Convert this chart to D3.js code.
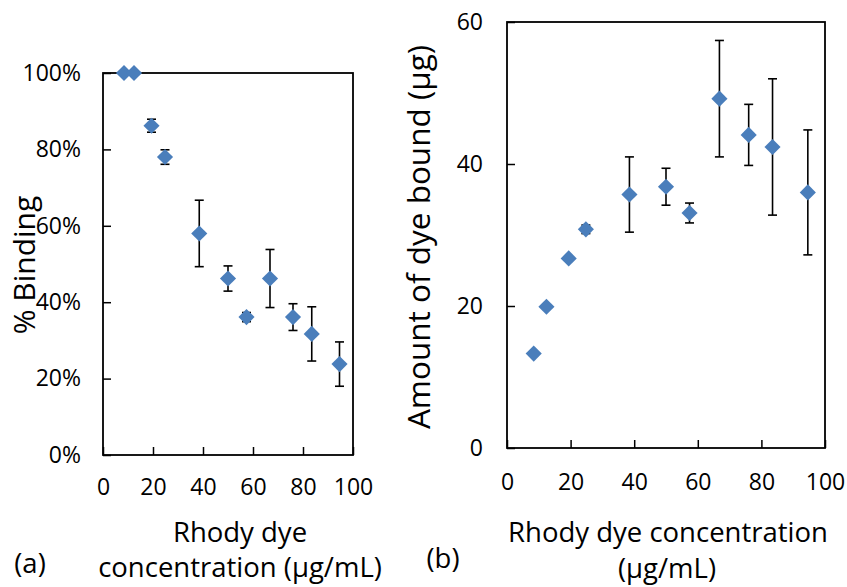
<!DOCTYPE html>
<html lang="en">
<head>
    <meta charset="UTF-8">
    <title>Rhody dye binding</title>
    <script src="https://d3js.org/d3.v7.min.js"></script>
    <style>
        body { margin: 0; background: #fff; }
        text { font-family: "Open Sans", sans-serif; fill: #000; }
    </style>
</head>
<body>
    <svg width="847" height="587" id="chart"></svg>

    <script>
        // concentration of Rhody dye (ug/mL), shared by both panels
        var concentration = [8.4, 12.4, 19.4, 24.8, 38.5, 50.0, 57.4, 66.8, 76.0, 83.5, 94.6];

        // panel (a): % binding and its error
        var bindingPct = [100, 100, 86.2, 78.0, 58.0, 46.2, 36.1, 46.2, 36.1, 31.7, 23.8];
        var bindingErr = [0, 0, 1.7, 1.9, 8.7, 3.3, 1.2, 7.6, 3.5, 7.1, 5.8];

        // panel (b): amount of dye bound (ug) and its error
        var dyeBound = [13.3, 19.9, 26.7, 30.8, 35.7, 36.8, 33.1, 49.2, 44.1, 42.4, 36.0];
        var dyeBoundErr = [0, 0, 0, 0.6, 5.3, 2.6, 1.4, 8.2, 4.3, 9.6, 8.8];

        var xTicks = [0, 20, 40, 60, 80, 100];
        var yTicksA = [0, 20, 40, 60, 80, 100];
        var yTicksB = [0, 20, 40, 60];

        var svg = d3.select("#chart");
        var blue = "#4a7ebb";

        var diamond = d3.symbol().type(d3.symbolSquare).size(130);

        function drawPanel(p) {
            var x = d3.scaleLinear().domain([0, 100]).range(p.xRange);
            var y = d3.scaleLinear().domain(p.yDomain).range(p.yRange);
            var g = svg.append("g");

            // axes, ticks pointing inward
            g.append("g")
                .attr("transform", "translate(0," + p.yRange[0] + ")")
                .call(d3.axisBottom(x).tickValues(xTicks).tickSize(-8).tickPadding(p.xPad))
                .call(a => a.select(".domain").remove())
                .call(a => a.selectAll("line").attr("stroke", "#000").attr("stroke-width", 1.5))
                .call(a => a.selectAll("text").attr("font-size", 23).attr("font-family", null));

            g.append("g")
                .attr("transform", "translate(" + p.xRange[0] + ",0)")
                .call(d3.axisLeft(y).tickValues(p.yTicks).tickSize(-8).tickPadding(p.yPad).tickFormat(p.fmt))
                .call(a => a.select(".domain").remove())
                .call(a => a.selectAll("line").attr("stroke", "#000").attr("stroke-width", 1.5))
                .call(a => a.selectAll("text").attr("font-size", 23).attr("font-family", null));

            // plot frame
            g.append("rect")
                .attr("x", p.xRange[0])
                .attr("y", p.yRange[1])
                .attr("width", p.xRange[1] - p.xRange[0])
                .attr("height", p.yRange[0] - p.yRange[1])
                .attr("fill", "none")
                .attr("stroke", "#000")
                .attr("stroke-width", 1.8);

            var pts = concentration.map((c, i) => ({ x: c, y: p.values[i], e: p.errors[i] }));

            // error bars
            var bars = g.append("g").attr("stroke", "#000").attr("stroke-width", 1.6)
                .selectAll("g")
                .data(pts.filter(d => d.e > 0))
                .join("g");
            bars.append("line")
                .attr("x1", d => x(d.x)).attr("x2", d => x(d.x))
                .attr("y1", d => y(d.y - d.e)).attr("y2", d => y(d.y + d.e));
            bars.append("line")
                .attr("x1", d => x(d.x) - 4.5).attr("x2", d => x(d.x) + 4.5)
                .attr("y1", d => y(d.y + d.e)).attr("y2", d => y(d.y + d.e));
            bars.append("line")
                .attr("x1", d => x(d.x) - 4.5).attr("x2", d => x(d.x) + 4.5)
                .attr("y1", d => y(d.y - d.e)).attr("y2", d => y(d.y - d.e));

            // diamond markers
            g.append("g")
                .selectAll("path")
                .data(pts)
                .join("path")
                .attr("d", diamond)
                .attr("fill", blue)
                .attr("transform", d => "translate(" + x(d.x) + "," + y(d.y) + ") rotate(45)");
        }

        drawPanel({
            xRange: [103, 353], yRange: [455, 73], yDomain: [0, 100],
            yTicks: yTicksA, fmt: d => d + "%",
            values: bindingPct, errors: bindingErr, xPad: 24, yPad: 22
        });

        drawPanel({
            xRange: [507, 825], yRange: [448, 22], yDomain: [0, 60],
            yTicks: yTicksB, fmt: d => d,
            values: dyeBound, errors: dyeBoundErr, xPad: 26, yPad: 24
        });

        // titles
        var titles = svg.append("g").attr("font-size", 27.5).attr("text-anchor", "middle");
        titles.append("text").attr("x", 240).attr("y", 542).text("Rhody dye");
        titles.append("text").attr("x", 240).attr("y", 577).text("concentration (µg/mL)");
        titles.append("text").attr("x", 668).attr("y", 542).text("Rhody dye concentration");
        titles.append("text").attr("x", 667).attr("y", 578).text("(μg/mL)");
        titles.append("text").attr("x", 30).attr("y", 573).text("(a)");
        titles.append("text").attr("x", 443).attr("y", 568).text("(b)");

        titles.append("text")
            .attr("font-size", 30)
            .attr("transform", "translate(35,265) rotate(-90)")
            .text("% Binding");
        titles.append("text")
            .attr("font-size", 31.5)
            .attr("transform", "translate(430,237) rotate(-90)")
            .text("Amount of dye bound (µg)");
    </script>
</body>
</html>
